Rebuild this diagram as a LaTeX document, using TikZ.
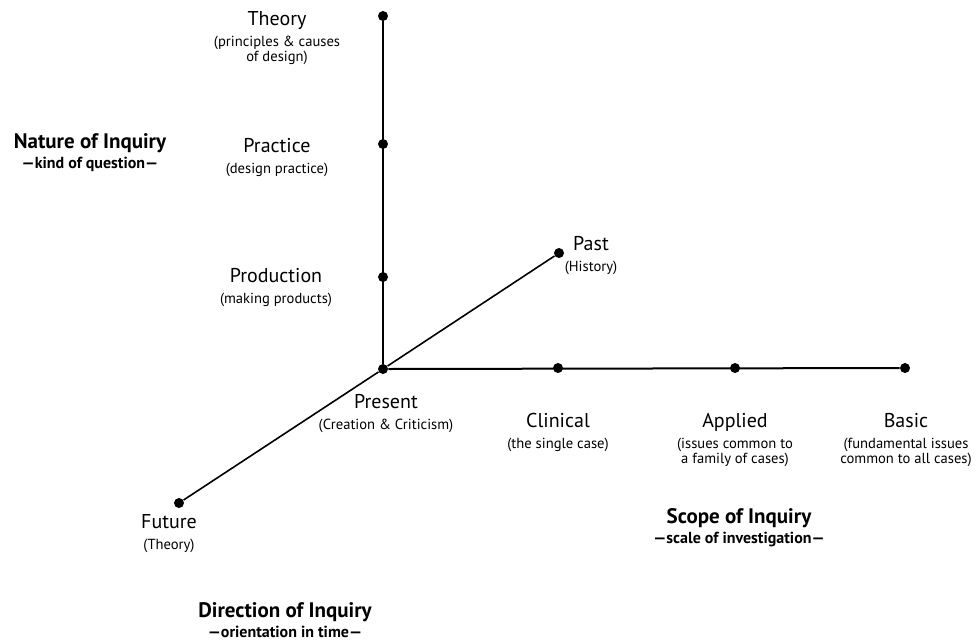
\documentclass[tikz,border=0pt]{standalone}
\usepackage{fontspec}
\setmainfont{PT Sans}
\usepackage{tikz}
\usetikzlibrary{positioning}

\newcommand{\sub}[1]{{\fontsize{7.3}{8.6}\selectfont #1}}
\newcommand{\headsub}[1]{{\fontsize{8}{8.6}\selectfont #1}}

\begin{document}
\begin{tikzpicture}[x=0.5pt, y=-0.5pt,
	dot/.style={circle, fill=black, inner sep=0pt, minimum size=5pt},
	txt/.style={anchor=north, inner sep=0pt, align=center, font=\fontsize{10}{10.5}\selectfont},
	head/.style={anchor=north, inner sep=0pt, align=center, font=\fontsize{10.5}{10}\selectfont\bfseries}]
	\useasboundingbox (0,0) rectangle (977,639);
	
	% Place nodes
	\node [dot] (present) at (383,369) {};
	\node [dot] (theory) at (383,16) {};
	\node [dot] (practice) at (383,144) {};
	\node [dot] (production) at (383,277) {};
	\node [dot] (past) at (559,253) {};
	\node [dot] (future) at (179,503) {};
	\node [dot] (clinical) at (558,368) {};
	\node [dot] (applied) at (735,368) {};
	\node [dot] (basic) at (905,368) {};
	
	% Labels
	\node [txt] (theorytxt) at (277,11) {Theory\\\sub{(principles \& causes}\\[-3pt]\sub{of design)}};
	\node [txt] (practicetxt) at (277,138) {Practice\\\sub{(design practice)}};
	\node [txt] (productiontxt) at (276,268) {Production\\\sub{(making products)}};
	\node [txt] (presenttxt) at (386,394) {Present\\\sub{(Creation \& Criticism)}};
	\node [txt] (pasttxt) at (591,236) {Past\\\sub{(History)}};
	\node [txt] (futuretxt) at (169,514) {Future\\\sub{(Theory)}};
	\node [txt] (clinicaltxt) at (558,413) {Clinical\\\sub{(the single case)}};
	\node [txt] (appliedtxt) at (735,413) {Applied\\\sub{(issues common to}\\[-3pt]\sub{a family of cases)}};
	\node [txt] (basictxt) at (906,413) {Basic\\\sub{(fundamental issues}\\[-3pt]\sub{common to all cases)}};
	
	% Axis titles
	\node [head] (nature) at (90,133) {Nature of Inquiry\\\headsub{---kind of question---}};
	\node [head] (scope) at (739,508) {Scope of Inquiry\\\headsub{---scale of investigation---}};
	\node [head] (direction) at (285,602) {Direction of Inquiry\\\headsub{---orientation in time---}};
	
	% Draw edges
	\draw [line width=1pt] (theory) -- (present);
	\draw [line width=0.8pt] (future) -- (present) -- (past);
	\draw [line width=1pt] (present) -- (basic);
\end{tikzpicture}
\end{document}
